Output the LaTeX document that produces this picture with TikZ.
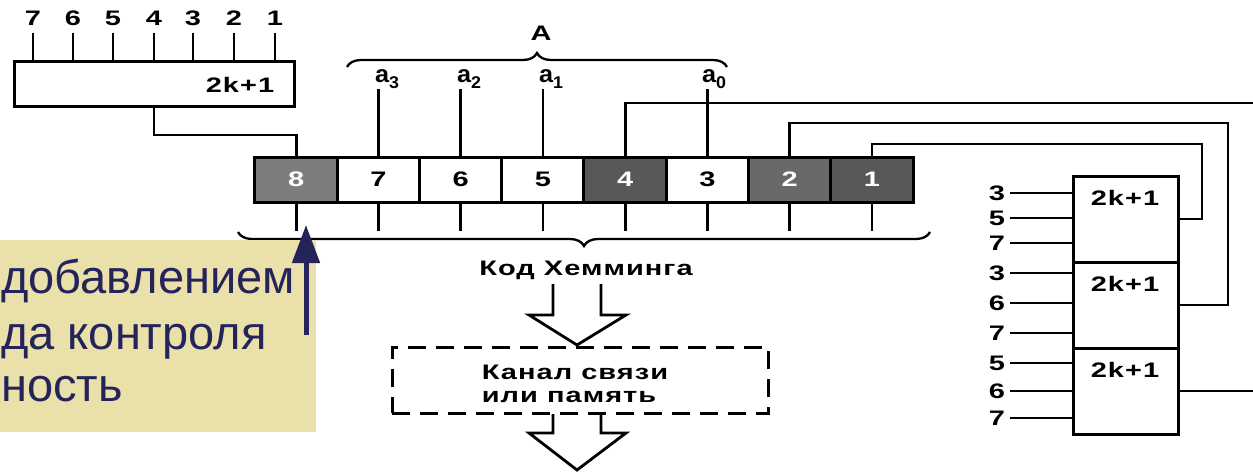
\documentclass[tikz,border=0pt]{standalone}
\usepackage{fontspec}
\setmainfont{Liberation Sans}
\newfontfamily\bookfont[FakeStretch=1.38,LetterSpace=5]{Liberation Sans Bold}
\newfontfamily\afont[FakeStretch=1.05]{Liberation Sans Bold}
\newfontfamily\slidefont{Liberation Sans}
\usetikzlibrary{arrows.meta,decorations.pathreplacing,calc}
\definecolor{callbg}{RGB}{233,224,170}
\definecolor{navy}{RGB}{36,35,90}
\definecolor{shadeA}{RGB}{125,125,125}
\definecolor{shadeB}{RGB}{88,88,88}
\definecolor{shadeC}{RGB}{105,105,105}
\tikzset{
  wire/.style={line width=2.8pt},
  lbl/.style={inner sep=0pt, font=\bookfont\fontsize{21}{21}\selectfont},
  rbox/.style={draw, line width=3pt, inner sep=0pt},
  regcell/.style={rbox, minimum width=82.25pt, minimum height=45pt, font=\bookfont\fontsize{21}{21}\selectfont},
  darkcell/.style={regcell, text=white},
  kbox/.style={rbox, minimum width=105pt, minimum height=86pt},
  blockarrow/.style={line width=2.8pt, line join=miter},
  brace/.style={decorate, line width=2.3pt},
  alab/.style={inner sep=0pt, font=\afont\fontsize{24}{24}\selectfont},
  slidetxt/.style={inner sep=0pt, anchor=base west, text=navy, font=\slidefont\fontsize{47}{47}\selectfont}
}
\newcommand{\asub}[1]{a\raisebox{-6pt}{\fontsize{17}{17}\selectfont #1}}
\begin{document}
\begin{tikzpicture}[x=1pt,y=-1pt]
\useasboundingbox (0,0) rectangle (1253,472);
\fill[white] (0,0) rectangle (1253,472);

% ---- top-left register
\node[rbox, minimum width=280pt, minimum height=45pt] (tl) at (154,83.5) {};
\node[lbl] (tlk) at (240,85) {2k+1};
\foreach \n/\x in {7/33,6/73,5/113,4/154,3/193,2/234,1/275} {
  \node[lbl] (t\n) at (\x,18) {\n};
  \draw[wire] (\x,33) -- (tl.north -| t\n);
}

% ---- main register
\node[darkcell, fill=shadeA] (c8) at (296.1,179.5) {8};
\node[regcell] (c7) at (378.4,179.5) {7};
\node[regcell] (c6) at (460.6,179.5) {6};
\node[regcell] (c5) at (542.9,179.5) {5};
\node[darkcell, fill=shadeB] (c4) at (625.1,179.5) {4};
\node[regcell] (c3) at (707.4,179.5) {3};
\node[darkcell, fill=shadeC] (c2) at (789.6,179.5) {2};
\node[darkcell, fill=shadeB] (c1) at (871.9,179.5) {1};
\foreach \c in {c8,c7,c6,c5,c4,c3,c2,c1} {
  \draw[wire] (\c.south) -- ++(0,27);
}

% ---- data bits A
\node[alab] (a3) at (387,79) {\asub{3}};
\node[alab] (a2) at (469,79) {\asub{2}};
\node[alab] (a1) at (551,79) {\asub{1}};
\node[alab] (a0) at (714,79) {\asub{0}};
\draw[wire] (c7.north) -- (c7.north |- 0,89);
\draw[wire] (c6.north) -- (c6.north |- 0,89);
\draw[wire] (c5.north) -- (c5.north |- 0,89);
\draw[wire] (c3.north) -- (c3.north |- 0,89);
\draw[brace, decoration={brace, amplitude=14pt}] (347,67) -- (727,67);
\node[lbl] (A) at (541,33) {A};

% ---- parity check blocks
\node[kbox] (b1) at (1125.5,219) {};
\node[kbox] (b2) at (1125.5,305) {};
\node[kbox] (b3) at (1125.5,391) {};
\node[lbl] at (1125,198) {2k+1};
\node[lbl] at (1125,284) {2k+1};
\node[lbl] at (1125,370) {2k+1};
\foreach \y/\n in {193/3,218/5,243/7,273/3,303/6,333/7,363/5,391/6,418/7} {
  \node[lbl] (in\y) at (997,\y) {\n};
  \draw[wire] (1010,\y) -- (b1.west |- in\y);
}

% ---- connections
\draw[wire] (tl.south) -- (tl.south |- 0,135) -| (c8.north);
\draw[wire] (c4.north) |- (1262,103);
\draw[wire] (c2.north) |- (1228,123) |- (b2.east);
\draw[wire] (c1.north) |- (1202,144) |- (b1.east);
\draw[wire] (b3.east) -- (1262,391);

% ---- Hamming code brace and channel
\draw[brace, decoration={brace, mirror, amplitude=14pt}] (238,232) -- (930,232);
\node[lbl] (kod) at (586,270) {Код Хемминга};
\draw[blockarrow] (553,284) -- (553,315) -- (529,315) -- (577,345) -- (626,315) -- (601,315) -- (601,284);
\node[draw, line width=3pt, dash pattern=on 18pt off 10pt, minimum width=376pt, minimum height=66pt] (chan) at (580,380) {};
\node[lbl, align=left, font=\bookfont\fontsize{21}{23}\selectfont] (chtxt) at (575,384) {Канал связи\\или память};
\draw[blockarrow] (553,414) -- (553,433) -- (529,433) -- (577,470) -- (626,433) -- (601,433) -- (601,414);

% ---- slide callout
\fill[callbg] (-5,240) rectangle (316,432);
\node[slidetxt] (l1) at (1,293) {добавлением};
\node[slidetxt] (l2) at (1,349) {да контроля};
\node[slidetxt] (l3) at (1,401) {ность};
\coordinate (arrS) at (306,335);
\coordinate (arrE) at (306,225);
\draw[navy, line width=5pt, -{Triangle[width=27pt,length=38pt]}] (arrS) -- (arrE);
\end{tikzpicture}
\end{document}
